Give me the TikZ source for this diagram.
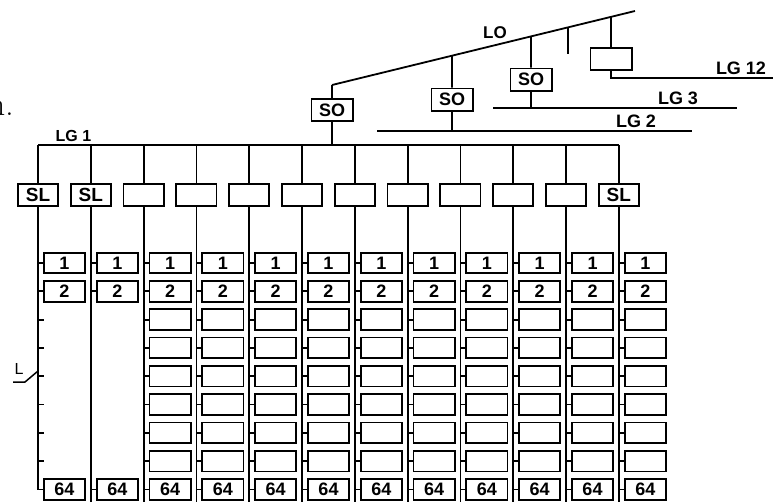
\documentclass[tikz,border=0pt]{standalone}
\usepackage{fontspec}
\setsansfont{Liberation Sans}
\usetikzlibrary{calc}
\begin{document}
\begin{tikzpicture}[x=1pt,y=-1pt,line width=1.8pt,
  slbox/.style={draw,line width=1.8pt,minimum width=40.2pt,minimum height=22.2pt,inner sep=0pt},
  sobox/.style={draw,line width=1.8pt,minimum width=41.2pt,minimum height=22.2pt,inner sep=0pt,font=\fontsize{18}{18}\selectfont\sffamily\bfseries},
  rowbox/.style={draw,line width=1.8pt,minimum width=41.2pt,minimum height=20.7pt,inner sep=0pt,font=\fontsize{18}{18}\selectfont\sffamily\bfseries},
  sltext/.style={inner sep=0pt,font=\fontsize{19}{19}\selectfont\sffamily\bfseries},
  lab/.style={inner sep=0pt,font=\fontsize{18}{18}\selectfont\sffamily\bfseries}]
\clip (0,0) rectangle (773,501);
\fill[white] (0,0) rectangle (773,501);
% fragment of outside text
\node[inner sep=0pt,anchor=base east,font=\fontsize{33}{33}\selectfont\rmfamily] (frag) at (14.5,115) {n.};
% LO line and its stations
\coordinate (lo0) at (332,85);
\coordinate (lo1) at (635,11);
\draw (lo0) -- (lo1);
\node[lab,font=\fontsize{17}{17}\selectfont\sffamily\bfseries] (lolab) at (495,33) {LO};
\coordinate (lo2) at ($(lo0)!0.396!(lo1)$);
\coordinate (lo3) at ($(lo0)!0.657!(lo1)$);
\coordinate (lo5) at ($(lo0)!0.779!(lo1)$);
\coordinate (lo4) at ($(lo0)!0.921!(lo1)$);
\node[sobox] (so1) at (332,110) {SO};
\node[sobox] (so2) at (452,99.5) {SO};
\node[sobox] (so3) at (531,79.5) {SO};
\node[sobox] (so4) at (611,59) {};
\coordinate (stub) at (568,54);
\draw (lo0) -- (so1.north);
\draw (lo2) -- (so2.north);
\draw (lo3) -- (so3.north);
\draw (lo4) -- (so4.north);
\draw (lo5) -- (lo5 |- stub);
% LG 2, LG 3, LG 12
\coordinate (lg2a) at (377,131);
\coordinate (lg2b) at (692,131);
\draw (lg2a) -- (lg2b);
\draw (so2.south) -- (so2.south |- lg2a);
\node[lab] (lg2lab) at (636,121) {LG 2};
\coordinate (lg3a) at (493,108);
\coordinate (lg3b) at (737,108);
\draw (lg3a) -- (lg3b);
\draw (so3.south) -- (so3.south |- lg3a);
\node[lab] (lg3lab) at (678,98) {LG 3};
\coordinate (lg12e) at (773,78);
\draw (so4.south) |- (lg12e);
\node[lab] (lg12lab) at (741,68) {LG 12};
% LG 1 bus
\node[lab,font=\fontsize{16}{16}\selectfont\sffamily\bfseries] (lg1lab) at (73.5,135.5) {LG 1};
\foreach \i in {0,...,11}{
  \pgfmathsetmacro\cx{38+52.8*\i}
  \coordinate (t\i) at (\cx,145);
  \coordinate (e\i) at (\cx,502);
}
\draw (t0) -- (t11);
\draw (so1.south) -- (so1.south |- t0);
% SL row
\foreach \i in {0,...,11}{
  \pgfmathsetmacro\cx{38+52.8*\i}
  \node[slbox] (s\i) at (\cx,195) {};
  \draw (t\i) -- (s\i.north);
}
\node[sltext] at (s0) {SL};
\node[sltext] at (s1) {SL};
\node[sltext] at (s11) {SL};
% station boxes, full columns
\foreach \i in {2,...,11}{
  \pgfmathsetmacro\cx{38+52.8*\i+26.5}
  \foreach \j in {0,...,8}{
    \pgfmathsetmacro\cy{263+28.3*\j}
    \node[rowbox] (b\i-\j) at (\cx,\cy) {\ifnum\j=0 1\else\ifnum\j=1 2\else\ifnum\j=8 64\fi\fi\fi};
    \draw (b\i-\j.west) -- (b\i-\j.west -| s\i);
  }
  \draw (s\i.south) -- (e\i);
}
% short columns 1 and 2
\foreach \i in {0,1}{
  \pgfmathsetmacro\cx{38+52.8*\i+26.5}
  \node[rowbox] (b\i-0) at (\cx,263) {1};
  \node[rowbox] (b\i-1) at (\cx,291.3) {2};
  \node[rowbox] (b\i-8) at (\cx,489.4) {64};
  \draw (b\i-0.west) -- (b\i-0.west -| s\i);
  \draw (b\i-1.west) -- (b\i-1.west -| s\i);
}
\draw (b1-8.west) -- (b1-8.west -| s1);
\draw (s1.south) -- (e1);
\draw (s0.south) |- (b0-8.west);
% ticks on the first column
\foreach \j in {2,...,7}{
  \pgfmathsetmacro\cy{263+28.3*\j}
  \draw (38,\cy) -- (43.5,\cy);
}
% L marker
\node[inner sep=0pt,font=\fontsize{16}{16}\selectfont\sffamily] (lmark) at (19,369) {L};
\coordinate (lm) at (38,371);
\draw[line width=1.5pt,line join=round] (13,382) -- (25,382) -- (lm);
\end{tikzpicture}
\end{document}
